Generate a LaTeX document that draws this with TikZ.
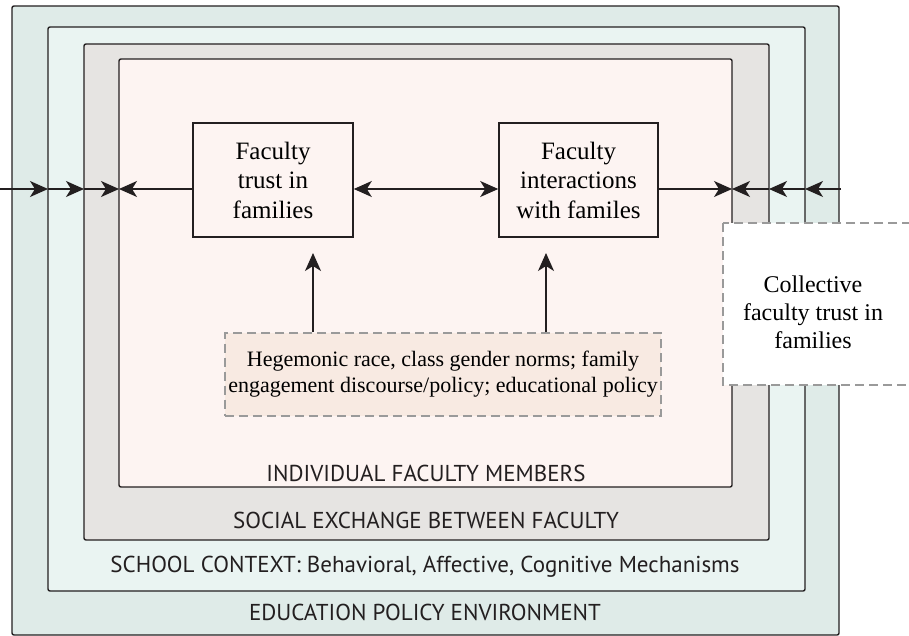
\documentclass[tikz,border=0pt]{standalone}
\usepackage{fontspec}
\setmainfont{Liberation Serif}
\newfontfamily\layerfont{PT Sans}
\usetikzlibrary{arrows.meta}
\usetikzlibrary{positioning}

\definecolor{envfill}{HTML}{DFEBE8}
\definecolor{schoolfill}{HTML}{EAF4F2}
\definecolor{exchfill}{HTML}{E6E4E2}
\definecolor{indivfill}{HTML}{FDF4F2}
\definecolor{normsfill}{HTML}{F8EAE2}
\definecolor{inkdark}{HTML}{231F20}
\definecolor{dashgray}{HTML}{9A9A9A}

\tikzset{
  layer/.style={draw=inkdark, line width=1.4pt, rounded corners=2pt},
  trustbox/.style={draw=inkdark, line width=1.6pt, fill=indivfill, align=center,
    font=\fontsize{25}{29.5}\selectfont, inner sep=0pt},
  normsbox/.style={draw=dashgray, dash pattern=on 9pt off 5pt, line width=1.5pt,
    fill=normsfill, align=center, font=\fontsize{22}{26}\selectfont},
  layerlabel/.style={font=\layerfont\fontsize{23}{26}\selectfont, text=inkdark},
  flow/.style={-{Stealth[length=18pt,width=16pt,inset=5pt]}, line width=1.4pt, draw=inkdark},
  twoway/.style={{Stealth[length=18pt,width=16pt,inset=5pt]}-{Stealth[length=18pt,width=16pt,inset=5pt]},
    line width=1.4pt, draw=inkdark}
}

\begin{document}
\begin{tikzpicture}[x=1pt,y=-1pt]
\useasboundingbox (0,0) rectangle (909,636);

% Nested context layers
\draw[layer, fill=envfill] (12,6) rectangle (839,635);
\draw[layer, fill=schoolfill] (48,27) rectangle (805,591);
\draw[layer, fill=exchfill] (84,44) rectangle (769,540);
\draw[layer, fill=indivfill] (119,59) rectangle (732,487);

% Layer labels
\node[layerlabel] (indivlbl) at (426,473) {INDIVIDUAL FACULTY MEMBERS};
\node[layerlabel] (exchlbl) at (426,520) {SOCIAL EXCHANGE BETWEEN FACULTY};
\node[layerlabel] (schoollbl) at (425,567) {SCHOOL CONTEXT: Behavioral, Affective, Cognitive Mechanisms};
\node[layerlabel] (envlbl) at (425,612) {EDUCATION POLICY ENVIRONMENT};

% Faculty boxes
\node[trustbox, minimum width=160pt, minimum height=114pt] (trust) at (273,180)
  {Faculty\\trust in\\families};
\node[trustbox, minimum width=159pt, minimum height=114pt] (interact) at (578.5,180)
  {Faculty\\interactions\\with familes};

% Norms and policy
\node[normsbox, minimum width=430pt, minimum height=83pt] (norms) at (443,374.5)
  {Hegemonic race, class gender norms; family\\engagement discourse/policy; educational policy};

% Collective trust (runs off the page)
\draw[draw=dashgray, dash pattern=on 9pt off 5pt, line width=1.5pt, fill=white]
  (723,223) rectangle (935,385);
\node[align=center, font=\fontsize{24}{28}\selectfont] (collective) at (813,312)
  {Collective\\faculty trust in\\families};

% Horizontal flow line
\coordinate (l0) at (0,189);
\coordinate (l1) at (48,189);
\coordinate (l2) at (84,189);
\coordinate (l3) at (119,189);
\coordinate (r1) at (732,189);
\coordinate (r2) at (769,189);
\coordinate (r3) at (805,189);
\coordinate (r4) at (841,189);

\draw[flow] (l0) -- (l1);
\draw[flow] (l1) -- (l2);
\draw[flow] (l2) -- (l3);
\draw[flow] (trust.west |- l0) -- (l3);
\draw[twoway] (trust.east |- l0) -- (interact.west |- l0);
\draw[flow] (interact.east |- l0) -- (r1);
\draw[flow] (r2) -- (r1);
\draw[flow] (r3) -- (r2);
\draw[flow] (r4) -- (r3);

% Influence arrows
\coordinate (up1) at (313,253);
\coordinate (up2) at (546,253);
\draw[flow] (norms.north -| up1) -- (up1);
\draw[flow] (norms.north -| up2) -- (up2);

\end{tikzpicture}
\end{document}
